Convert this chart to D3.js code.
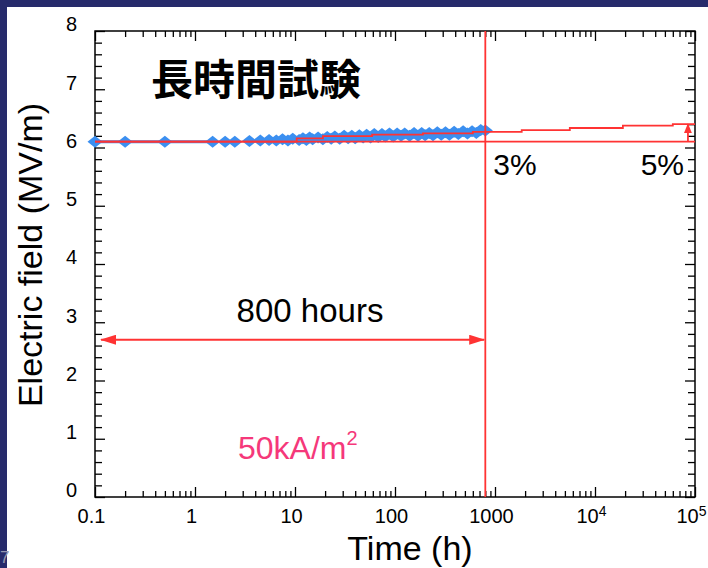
<!DOCTYPE html>
<html><head><meta charset="utf-8">
<script src="https://cdn.jsdelivr.net/npm/d3@7"></script>
<style>html,body{margin:0;padding:0;background:#fff;}svg{display:block;}</style>
</head><body><svg id="c" width="708" height="568"></svg>
<script>
// ---- data ----
const timesH = [0.1,0.2,0.5,1.5,2,2.5,3.5,4.5,5.5,6.5,7.5,8.5,9.5,11,12,13,14,15,17,19,21,23,25,28,31,34,37,40,44,48,52,57,62,68,74,80,88,96,105,115,125,140,155,170,185,200,220,240,265,290,320,350,390,430,480,530,590,650,720,800];
const fieldMV = [6.10,6.10,6.10,6.10,6.10,6.10,6.11,6.12,6.13,6.12,6.14,6.12,6.15,6.13,6.16,6.13,6.17,6.14,6.17,6.14,6.18,6.15,6.19,6.15,6.20,6.16,6.20,6.16,6.21,6.17,6.22,6.17,6.23,6.18,6.23,6.19,6.24,6.19,6.24,6.20,6.24,6.20,6.25,6.20,6.25,6.21,6.25,6.21,6.26,6.22,6.26,6.22,6.27,6.23,6.28,6.24,6.28,6.25,6.30,6.29];
const stepTimes = [0.1,10.4,19,59,190,600,1850,5600,19000,60000,100000];
const stepField = [6.10,6.158,6.197,6.22,6.244,6.268,6.30,6.335,6.374,6.40,6.40];
const baseField = 6.1;
const spanTimes = [0.115, 780];
const spanField = 2.7;
const markTime = 800;
const riseTime = 85000;
const riseField = [6.1, 6.4];
const xTicks = [0.1,1,10,100,1000,1e4,1e5];
const xTickBase = ["0.1","1","10","100","1000","10","10"];
const xTickExp = ["","","","","","4","5"];
const yTicks = [0,1,2,3,4,5,6,7,8];
const titleText = "長時間試験";
const spanLabel = "800 hours";
const pctLabels = ["3%","5%"];
const currentLabel = ["50kA/m","2"];
const xTitle = "Time (h)";
const yTitle = "Electric field (MV/m)";

// ---- drawing ----
const RED = "#ff3333", BLUE = "#3b8ff0", PINK = "#f5387a";
const FONT = "'Liberation Sans', Arial, Helvetica, sans-serif";
const svg = d3.select("#c");
svg.append("rect").attr("width",708).attr("height",568).attr("fill","#272b6b");
svg.append("rect").attr("x",7).attr("y",7).attr("width",701).attr("height",561).attr("fill","#ffffff");
svg.append("text").attr("x",0).attr("y",563).attr("font-family",FONT).attr("font-size",17)
  .attr("fill","#9597b0").text("7");

const L=95,R=695,T=31,B=497;
const x = d3.scaleLog().domain([0.1,1e5]).range([L,R]);
const y = d3.scaleLinear().domain([0,8]).range([B,T]);

const minorX = [];
for (let e=-1;e<5;e++){ for(let k=2;k<=9;k++) minorX.push(k*Math.pow(10,e)); }
const minorY = d3.range(0,41).map(i=>i*0.2).filter(v=>Math.abs(v-Math.round(v))>1e-6);

function styleAxis(g){ g.select(".domain").remove(); g.selectAll("line").attr("stroke","#000").attr("stroke-width",1.3); }

// bottom
svg.append("g").attr("transform",`translate(0,${B})`)
  .call(d3.axisBottom(x).tickValues(minorX).tickSizeInner(-6).tickSizeOuter(0).tickFormat(""))
  .call(styleAxis);
const bx = svg.append("g").attr("transform",`translate(0,${B})`)
  .call(d3.axisBottom(x).tickValues(xTicks).tickSizeInner(-10).tickSizeOuter(0).tickPadding(12).tickFormat((d,i)=>xTickBase[i]))
  .call(styleAxis);
bx.selectAll("text").attr("font-family",FONT).attr("font-size",20).attr("fill","#000")
  .attr("transform","translate(-4,0)")
  .each(function(d,i){
    if(xTickExp[i]){
      const t=d3.select(this); t.text(xTickBase[i]);
      t.append("tspan").attr("font-size",14).attr("dy","-0.55em").text(xTickExp[i]);
    }
  });
// top
svg.append("g").attr("transform",`translate(0,${T})`)
  .call(d3.axisTop(x).tickValues(minorX).tickSizeInner(-6).tickSizeOuter(0).tickFormat(""))
  .call(styleAxis);
svg.append("g").attr("transform",`translate(0,${T})`)
  .call(d3.axisTop(x).tickValues(xTicks).tickSizeInner(-10).tickSizeOuter(0).tickFormat(""))
  .call(styleAxis);
// left
svg.append("g").attr("transform",`translate(${L},0)`)
  .call(d3.axisLeft(y).tickValues(minorY).tickSizeInner(-7).tickSizeOuter(0).tickFormat(""))
  .call(styleAxis);
const ly = svg.append("g").attr("transform",`translate(${L},0)`)
  .call(d3.axisLeft(y).tickValues(yTicks).tickSizeInner(-10).tickSizeOuter(0).tickPadding(18).tickFormat(d3.format("d")))
  .call(styleAxis);
ly.selectAll("text").attr("font-family",FONT).attr("font-size",20).attr("fill","#000")
  .attr("transform","translate(0,-6.5)");
// right
svg.append("g").attr("transform",`translate(${R},0)`)
  .call(d3.axisRight(y).tickValues(minorY).tickSizeInner(-7).tickSizeOuter(0).tickFormat(""))
  .call(styleAxis);
svg.append("g").attr("transform",`translate(${R},0)`)
  .call(d3.axisRight(y).tickValues(yTicks).tickSizeInner(-10).tickSizeOuter(0).tickFormat(""))
  .call(styleAxis);

// frame
svg.append("rect").attr("x",L).attr("y",T).attr("width",R-L).attr("height",B-T)
  .attr("fill","none").attr("stroke","#000").attr("stroke-width",1.5);

// title
svg.append("text").attr("x",256).attr("y",95).attr("text-anchor","middle")
  .attr("font-family","'Noto Sans CJK JP', sans-serif").attr("font-weight",700)
  .attr("font-size",42).attr("fill","#000").text(titleText);

// blue baseline under points
svg.append("line").attr("x1",x(timesH[0])).attr("x2",x(1.5)).attr("y1",y(baseField)).attr("y2",y(baseField))
  .attr("stroke",BLUE).attr("stroke-width",3);
// diamonds
svg.append("g").selectAll("path").data(timesH).join("path")
  .attr("transform",(d,i)=>`translate(${x(d)},${y(fieldMV[i])})`)
  .attr("d","M0,-6L7.5,0L0,6L-7.5,0Z").attr("fill",BLUE);

// red baseline & step line
svg.append("line").attr("x1",x(0.1)).attr("x2",x(1e5)).attr("y1",y(baseField)).attr("y2",y(baseField))
  .attr("stroke",RED).attr("stroke-width",1.8);
const stepLine = d3.line().x((d,i)=>x(d)).y((d,i)=>y(stepField[i])).curve(d3.curveStepAfter);
svg.append("path").attr("d",stepLine(stepTimes)).attr("fill","none").attr("stroke",RED).attr("stroke-width",1.8);

// vertical line at 800 h
svg.append("line").attr("x1",x(markTime)).attr("x2",x(markTime)).attr("y1",y(0)).attr("y2",y(8))
  .attr("stroke",RED).attr("stroke-width",1.8);

// arrow markers
const defs = svg.append("defs");
defs.append("marker").attr("id","ah").attr("viewBox","0 0 16 10").attr("markerUnits","userSpaceOnUse")
  .attr("markerWidth",16).attr("markerHeight",10).attr("refX",15).attr("refY",5)
  .attr("orient","auto-start-reverse")
  .append("path").attr("d","M0,0L16,5L0,10Z").attr("fill",RED);
defs.append("marker").attr("id","ahs").attr("viewBox","0 0 10 8").attr("markerUnits","userSpaceOnUse")
  .attr("markerWidth",10).attr("markerHeight",8).attr("refX",9).attr("refY",4)
  .attr("orient","auto")
  .append("path").attr("d","M0,0L10,4L0,8Z").attr("fill",RED);

// 800 hours span arrow
svg.append("line").attr("x1",x(spanTimes[0])).attr("x2",x(spanTimes[1]))
  .attr("y1",y(spanField)).attr("y2",y(spanField))
  .attr("stroke",RED).attr("stroke-width",2)
  .attr("marker-start","url(#ah)").attr("marker-end","url(#ah)");
// rise arrow
svg.append("line").attr("x1",x(riseTime)).attr("x2",x(riseTime))
  .attr("y1",y(riseField[0])).attr("y2",y(riseField[1]))
  .attr("stroke",RED).attr("stroke-width",1.8).attr("marker-end","url(#ahs)");

// annotations
svg.append("text").attr("x",310).attr("y",322).attr("text-anchor","middle")
  .attr("font-family",FONT).attr("font-size",33).attr("fill","#000").text(spanLabel);
svg.append("text").attr("x",x(markTime)+8).attr("y",175)
  .attr("font-family",FONT).attr("font-size",30).attr("fill","#000").text(pctLabels[0]);
svg.append("text").attr("x",684).attr("y",175).attr("text-anchor","end")
  .attr("font-family",FONT).attr("font-size",30).attr("fill","#000").text(pctLabels[1]);
const cl = svg.append("text").attr("x",238).attr("y",459)
  .attr("font-family",FONT).attr("font-size",32).attr("fill",PINK).text(currentLabel[0]);
cl.append("tspan").attr("font-size",20).attr("dy",-14).text(currentLabel[1]);

// axis titles
svg.append("text").attr("x",410).attr("y",560).attr("text-anchor","middle")
  .attr("font-family",FONT).attr("font-size",34).attr("fill","#000").text(xTitle);
svg.append("text").attr("transform","translate(42,255) rotate(-90)").attr("text-anchor","middle")
  .attr("font-family",FONT).attr("font-size",34).attr("fill","#000").text(yTitle);
</script></body></html>
